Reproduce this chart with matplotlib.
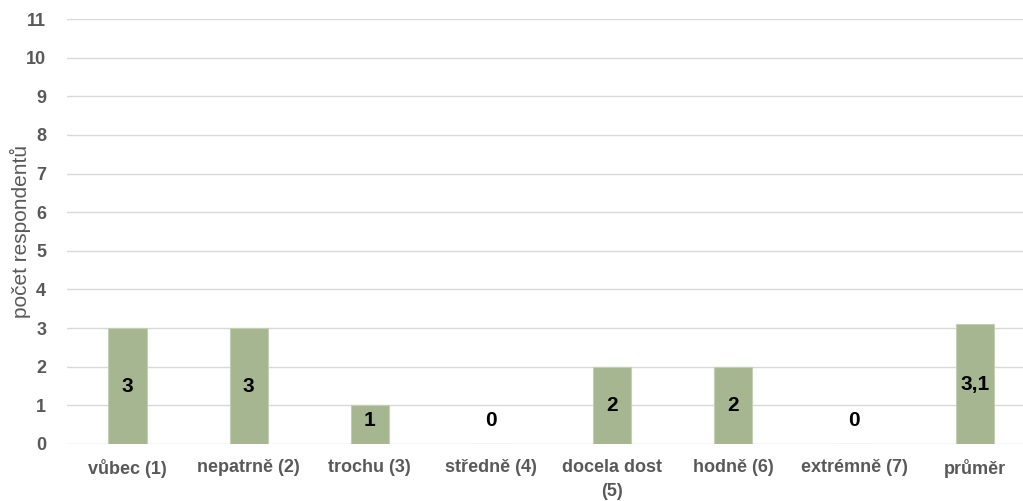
import numpy as np
import matplotlib.pyplot as plt

# data
categories = ["vůbec (1)", "nepatrně (2)", "trochu (3)", "středně (4)",
              "docela dost\n(5)", "hodně (6)", "extrémně (7)", "průměr"]
values = [3, 3, 1, 0, 2, 2, 0, 3.1]
value_labels = ["3", "3", "1", "0", "2", "2", "0", "3,1"]
yticks = list(range(0, 12))

plt.rcParams['font.family'] = ['Liberation Sans', 'DejaVu Sans']

fig = plt.figure(figsize=(10.23, 5.01), dpi=100)
ax = fig.add_axes([0.0655, 0.1138, 0.947, 0.8482])

x = np.arange(len(categories))
ax.bar(x, values, width=0.315, color="#A6B690", edgecolor="#C4CEB5",
       linewidth=0.8, zorder=2)

# popisky hodnot uprostred sloupcu
for xi, v, lab in zip(x, values, value_labels):
    ax.text(xi, max(v / 2, 0.6), lab, ha="center", va="center",
            fontsize=15, fontweight="bold", color="black", zorder=3)

ax.set_xlim(-0.5, len(categories) - 0.5)
ax.set_ylim(0, 11)
ax.set_yticks(yticks)
ax.set_yticklabels([str(t) for t in yticks])
ax.set_xticks(x)
ax.set_xticklabels(categories, linespacing=1.5)

ax.grid(axis="y", color="#D9D9D9", linewidth=1.0, zorder=0)
ax.set_axisbelow(True)
for s in ax.spines.values():
    s.set_visible(False)

ax.tick_params(axis="both", length=0, colors="#595959")
ax.tick_params(axis="y", pad=15, labelsize=13)
ax.tick_params(axis="x", pad=11, labelsize=13)
for t in ax.get_xticklabels() + ax.get_yticklabels():
    t.set_fontweight("bold")

ax.set_ylabel("počet respondentů", fontsize=15, color="#595959")
ax.yaxis.set_label_coords(-0.037, 0.5)

fig.savefig("out.png", dpi=100)
